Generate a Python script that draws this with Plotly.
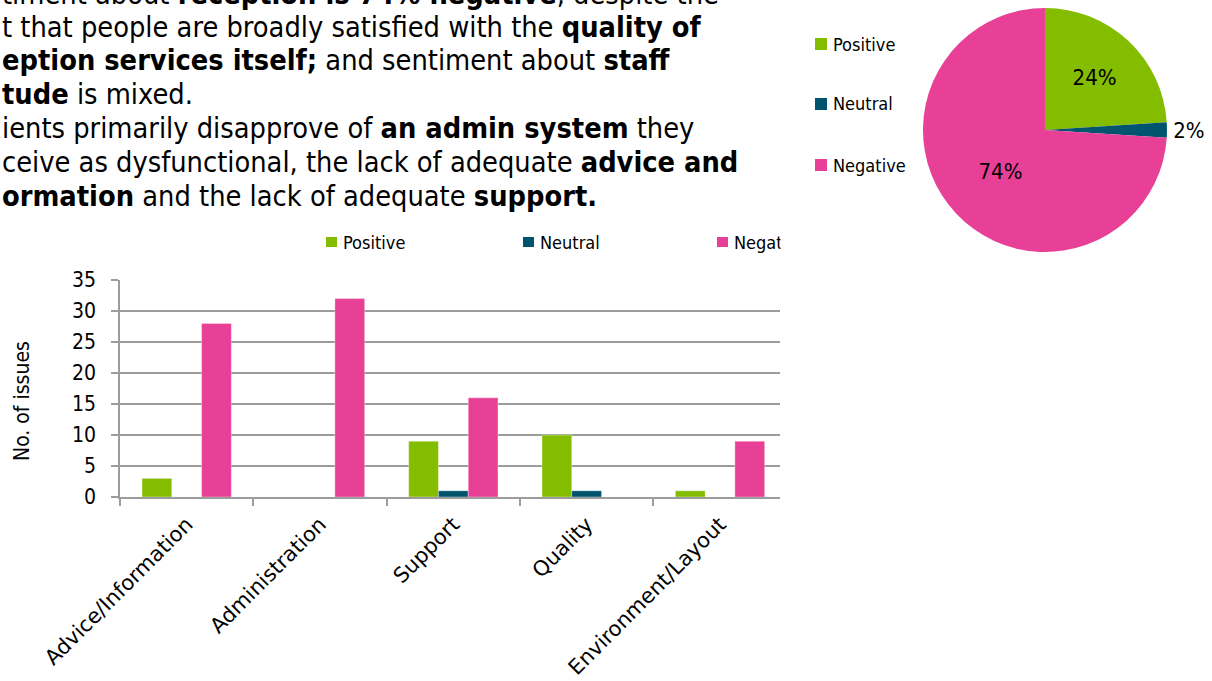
import plotly.graph_objects as go

# Issue counts per theme, split by sentiment
categories = ["Advice/Information", "Administration", "Support", "Quality", "Environment/Layout"]
positive = [3, 0, 9, 10, 1]
neutral = [0, 0, 1, 1, 0]
negative = [28, 32, 16, 0, 9]

# Overall sentiment split (percent)
pie_labels = ["Positive", "Neutral", "Negative"]
pie_values = [24, 2, 74]
pie_text_pos = ["inside", "outside", "inside"]

y_ticks = [0, 5, 10, 15, 20, 25, 30, 35]

# Commentary lines (the text box runs past the left and top edges of the page)
body_lines = [
    "timent about <b>reception is 74% negative</b>, despite the",
    "t that people are broadly satisfied with the <b>quality of</b>",
    "<b>eption services itself;</b> and sentiment about <b>staff</b>",
    "<b>tude</b> is mixed.",
    "ients primarily disapprove of <b>an admin system</b> they",
    "ceive as dysfunctional, the lack of adequate <b>advice and</b>",
    "<b>ormation</b> and the lack of adequate <b>support.</b>",
]
body_baselines = [2, 35, 68, 102, 136, 170, 204]

GREEN = "#84BD00"
TEAL = "#00546E"
PINK = "#E84096"
GRID = "#9C9C9C"
FONT = "DejaVu Sans Condensed, DejaVu Sans, sans-serif"
FONT_WIDE = "DejaVu Sans, sans-serif"

W, H = 1212, 681


def px(x):
    return x / W


def py(y):
    return 1 - y / H


fig = go.Figure()

for name, vals, col in [("Positive", positive, GREEN), ("Neutral", neutral, TEAL), ("Negative", negative, PINK)]:
    fig.add_trace(go.Bar(
        x=categories, y=vals, name=name, marker_color=col,
        marker_line=dict(width=1, color="rgba(255,255,255,0.35)"),
        showlegend=False, xaxis="x", yaxis="y",
    ))

fig.add_trace(go.Pie(
    labels=pie_labels, values=pie_values, sort=False, direction="clockwise", rotation=0,
    marker=dict(colors=[GREEN, TEAL, PINK], line=dict(width=0)),
    texttemplate="%{percent:.0%}", textposition=pie_text_pos,
    insidetextorientation="horizontal",
    textfont=dict(family=FONT, size=22, color="#000000"),
    domain=dict(x=[px(923), px(1167)], y=[py(252), py(8)]),
    showlegend=False, hoverinfo="label+percent",
))

annotations = []
for line, baseline in zip(body_lines, body_baselines):
    annotations.append(dict(text=line, x=px(0), y=py(baseline - 8), xref="paper", yref="paper",
                            xanchor="left", yanchor="middle", align="left", showarrow=False,
                            font=dict(family=FONT, size=28.7, color="#000000")))

annotations.append(dict(text="No. of issues", x=px(8), y=py(401), xref="paper", yref="paper",
                        textangle=-90, showarrow=False,
                        font=dict(family=FONT, size=21, color="#000000")))

shapes = []

# bar chart legend
for lbl, col, sx in [("Positive", GREEN, 326), ("Neutral", TEAL, 523), ("Negative", PINK, 717)]:
    shapes.append(dict(type="rect", xref="paper", yref="paper", x0=px(sx), x1=px(sx + 11),
                       y0=py(247), y1=py(237), fillcolor=col, line=dict(width=0)))
    annotations.append(dict(text=lbl, x=px(sx + 15), y=py(242), xref="paper", yref="paper",
                            xanchor="left", yanchor="middle", showarrow=False,
                            font=dict(family=FONT, size=18, color="#000000")))

# the neighbouring pie panel sits over the end of the bar legend
annotations.append(dict(text=" ", x=px(780), y=py(242), xref="paper", yref="paper",
                        xanchor="left", yanchor="middle", showarrow=False, width=60, height=28,
                        bgcolor="#FFFFFF"))

# pie legend
for lbl, col, cy in [("Positive", GREEN, 44), ("Neutral", TEAL, 104), ("Negative", PINK, 165)]:
    shapes.append(dict(type="rect", xref="paper", yref="paper", x0=px(815), x1=px(827),
                       y0=py(cy + 6), y1=py(cy - 6), fillcolor=col, line=dict(width=0)))
    annotations.append(dict(text=lbl, x=px(831), y=py(cy), xref="paper", yref="paper",
                            xanchor="left", yanchor="middle", showarrow=False,
                            font=dict(family=FONT, size=18, color="#000000")))

fig.update_layout(
    width=W, height=H,
    margin=dict(l=0, r=0, t=0, b=0, autoexpand=False),
    paper_bgcolor="#FFFFFF", plot_bgcolor="#FFFFFF",
    barmode="group", bargap=0.33, bargroupgap=0,
    font=dict(family=FONT, color="#000000"),
    xaxis=dict(domain=[px(120), px(780)], range=[-0.5, 4.45], type="category",
               automargin=False,
               showline=True, linecolor=GRID, linewidth=1.5, showgrid=False,
               ticks="outside", tickson="boundaries", ticklen=7, tickcolor=GRID, tickwidth=1.5,
               tickangle=-45, ticklabelstandoff=5,
               tickfont=dict(family=FONT_WIDE, size=21, color="#000000"),
               fixedrange=True),
    yaxis=dict(domain=[py(497), py(280)], range=[0, 35], tickvals=y_ticks,
               automargin=False,
               showline=True, linecolor=GRID, linewidth=1.5,
               showgrid=True, gridcolor=GRID, gridwidth=1.5, zeroline=False,
               ticks="outside", ticklen=7, tickcolor=GRID, tickwidth=1.5,
               ticklabelstandoff=11,
               tickfont=dict(family=FONT, size=21, color="#000000"), fixedrange=True),
    annotations=annotations,
    shapes=shapes,
)

fig.write_html("out.html")
